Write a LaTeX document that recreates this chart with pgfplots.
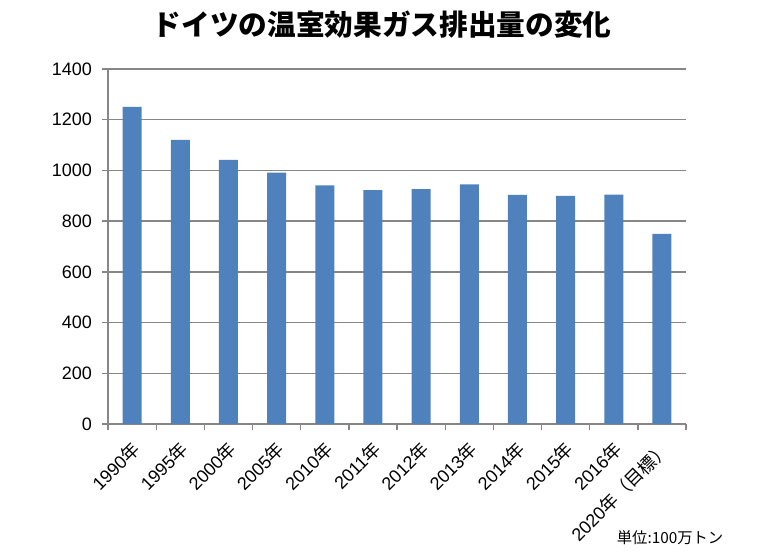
\documentclass[border=0pt]{standalone}
\usepackage{fontspec}
\setmainfont{Liberation Sans}
\newfontfamily\cjk{Noto Sans CJK JP}
\usepackage{pgfplots}
\pgfplotsset{compat=1.18}
\definecolor{barblue}{HTML}{4F81BD}
\definecolor{gridgray}{HTML}{868686}
\begin{document}
\begin{tikzpicture}
\path[use as bounding box] (0pt,0pt) rectangle (576pt,417.75pt);
\begin{axis}[
  at={(81pt,99.75pt)}, anchor=south west,
  scale only axis, width=433.5pt, height=266.25pt,
  ymin=0, ymax=1400, ytick={0,200,...,1400},
  xmin=-0.5, xmax=11.5,
  xtick={0,...,11},
  xticklabels={1990{\cjk 年},1995{\cjk 年},2000{\cjk 年},2005{\cjk 年},2010{\cjk 年},2011{\cjk 年},2012{\cjk 年},2013{\cjk 年},2014{\cjk 年},2015{\cjk 年},2016{\cjk 年},2020{\cjk 年（目標）}},
  minor xtick={-0.5,0.5,...,11.5},
  major x tick style={draw=none},
  axis x line*=bottom, axis y line*=left,
  axis line style={gridgray, line width=1pt, -},
  ymajorgrids, grid style={gridgray, line width=1pt},
  tick align=outside,
  tick style={gridgray, line width=1pt},
  major tick length=4.5pt, minor tick length=4.5pt,
  scaled y ticks=false,
  /pgf/number format/assume math mode=true,
  /pgf/number format/1000 sep={},
  tick label style={font=\fontsize{13.5}{16}\selectfont, text=black},
  yticklabel style={anchor=east, xshift=-4pt},
  xticklabel style={xshift=4pt, yshift=-11pt, rotate=45, anchor=east, inner sep=1pt},
  ybar, bar width=14.25pt,
]
\addplot[fill=barblue, draw=none] coordinates {
  (0,1251) (1,1120) (2,1042) (3,991) (4,941) (5,922) (6,926) (7,945) (8,904) (9,900) (10,905) (11,750)
};
\end{axis}
\node[font=\cjk\bfseries\fontsize{21.5}{25}\selectfont] at (286.5pt,399pt) {ドイツの温室効果ガス排出量の変化};
\node[anchor=east, font=\cjk\fontsize{11.5}{13}\selectfont] at (546pt,14.25pt) {単位:100万トン};
\end{tikzpicture}
\end{document}
